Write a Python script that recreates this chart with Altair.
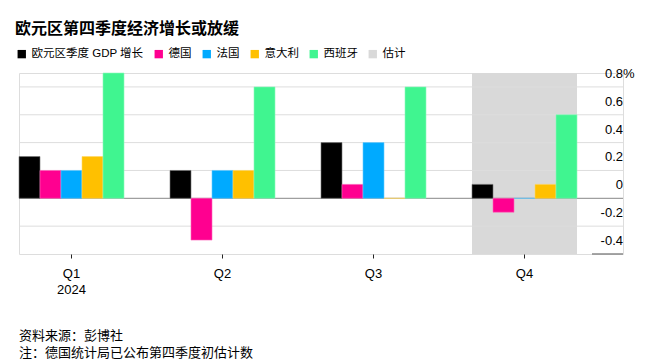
import altair as alt
import pandas as pd

# ---- data ----
quarters = ["Q1", "Q2", "Q3", "Q4"]
series_names = ["欧元区季度 GDP 增长", "德国", "法国", "意大利", "西班牙"]
euro_area = [0.3, 0.2, 0.4, 0.1]
germany = [0.2, -0.3, 0.1, -0.1]
france = [0.2, 0.2, 0.4, 0.0]
italy = [0.3, 0.2, 0.0, 0.1]
spain = [0.9, 0.8, 0.8, 0.6]
estimate_name = "估计"
estimate_quarters = ["Q4"]
palette = ["#000000", "#ff0090", "#00aaff", "#ffc000", "#40f590", "#d9d9d9"]
grid_values = [0.8, 0.6, 0.4, 0.2, -0.2]
tick_values = [0.8, 0.6, 0.4, 0.2, 0.0, -0.2, -0.4]
tick_labels = ["0.8", "0.6", "0.4", "0.2", "0", "-0.2", "-0.4"]
title_text = "欧元区第四季度经济增长或放缓"
footer_lines = ["资料来源：彭博社", "注：德国统计局已公布第四季度初估计数"]

FONT = "Liberation Sans, Noto Sans CJK SC, sans-serif"
W, H = 604, 181

rows = []
for name, vals in zip(series_names, [euro_area, germany, france, italy, spain]):
    for q, v in zip(quarters, vals):
        rows.append({"quarter": q, "series": name, "value": v})
bars_df = pd.DataFrame(rows)
band_df = pd.DataFrame({"quarter": estimate_quarters, "series": [estimate_name] * len(estimate_quarters)})
grid_df = pd.DataFrame({"value": grid_values})
zero_df = pd.DataFrame({"value": [0.0]})
labels_df = pd.DataFrame({"value": tick_values, "label": tick_labels})
pct_df = pd.DataFrame({"value": [tick_values[0]], "label": ["%"]})
bottom_df = pd.DataFrame({"value": [tick_values[-1]]})
footer_df = pd.DataFrame({"line": footer_lines, "row": list(range(len(footer_lines)))})

color_domain = series_names + [estimate_name]
color_scale = alt.Scale(domain=color_domain, range=palette)
x_scale = alt.Scale(domain=quarters, paddingInner=46 / 151, paddingOuter=23 / 151, align=0)
y_scale = alt.Scale(domain=[-0.4, 0.9], nice=False, zero=False)

x_axis = alt.Axis(
    title=None, domain=False, ticks=True, tickSize=4, tickColor="#222", tickWidth=1,
    labelFontSize=13, labelPadding=9, labelColor="#000", labelFont=FONT, labelAngle=0,
    labelLineHeight=16,
    labelExpr="datum.value == 'Q1' ? ['Q1', '2024'] : datum.value",
)

band = alt.Chart(band_df).mark_bar(opacity=1).encode(
    x=alt.X("quarter:N", scale=x_scale, axis=x_axis, sort=quarters),
    y=alt.value(0),
    y2=alt.value(H),
    color=alt.Color("series:N", scale=color_scale,
                    legend=alt.Legend(orient="none", legendX=-3, legendY=-25, direction="horizontal",
                                      title=None, symbolType="square", symbolSize=70,
                                      symbolStrokeWidth=0, labelFontSize=11.5, labelFont=FONT,
                                      labelColor="#000", labelOffset=4, columnPadding=9)),
)

grid = alt.Chart(grid_df).mark_rule(color="#dddddd", strokeWidth=1).encode(
    y=alt.Y("value:Q", scale=y_scale, axis=None),
    x=alt.value(0), x2=alt.value(W),
)

zero = alt.Chart(zero_df).mark_rule(color="#888888", strokeWidth=1).encode(
    y=alt.Y("value:Q", scale=y_scale, axis=None),
    x=alt.value(0), x2=alt.value(W),
)

bottom_tick = alt.Chart(bottom_df).mark_rule(color="#888888", strokeWidth=1.5).encode(
    y=alt.Y("value:Q", scale=y_scale, axis=None),
    x=alt.value(W - 31), x2=alt.value(W),
)

bars = alt.Chart(bars_df).mark_bar(strokeWidth=1, strokeOpacity=0.6).encode(
    x=alt.X("quarter:N", scale=x_scale, axis=x_axis, sort=quarters),
    xOffset=alt.XOffset("series:N", scale=alt.Scale(domain=series_names, paddingInner=0, paddingOuter=0)),
    y=alt.Y("value:Q", scale=y_scale, axis=None),
    color=alt.Color("series:N", scale=color_scale),
    stroke=alt.Stroke("series:N", scale=alt.Scale(domain=color_domain,
                                                  range=["#777777", "#ff66bb", "#66ccff", "#ffd966", "#8cf9bc", "#d9d9d9"]),
                      legend=None),
)

ylabels = alt.Chart(labels_df).mark_text(align="right", baseline="middle", dy=-13,
                                         fontSize=13, font=FONT, color="#000").encode(
    y=alt.Y("value:Q", scale=y_scale, axis=None),
    x=alt.value(W),
    text="label:N",
)

pct = alt.Chart(pct_df).mark_text(align="left", baseline="middle", dy=-13,
                                  fontSize=13, font=FONT, color="#000").encode(
    y=alt.Y("value:Q", scale=y_scale, axis=None),
    x=alt.value(W),
    text="label:N",
)

footer = alt.Chart(footer_df).mark_text(align="left", baseline="middle", fontSize=13,
                                        font=FONT, color="#000").encode(
    x=alt.value(0),
    y=alt.Y("row:Q", scale=alt.Scale(domain=[0, 1], range=[H + 82, H + 99]), axis=None),
    text="line:N",
)

chart = alt.layer(band, grid, zero, bottom_tick, bars, ylabels, pct, footer).resolve_scale(
    y="independent"
).properties(
    width=W, height=H,
    autosize=alt.AutoSizeParams(type="none"),
    padding={"left": 11, "top": 65, "right": 18, "bottom": 106},
    title=alt.Title(title_text, anchor="start", frame="group", fontSize=16, fontWeight="bold",
                    font=FONT, color="#000", dx=-4, offset=11),
).configure_view(stroke=None).configure(background="white")

chart.save("out.html", embed_options={"renderer": "svg", "actions": False})
